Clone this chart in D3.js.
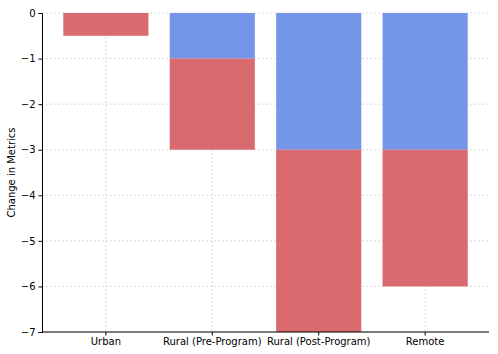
<!DOCTYPE html>
<html>
<head>
<meta charset="utf-8">
<script src="https://cdn.jsdelivr.net/npm/d3@7"></script>
<style>
  body { margin: 0; background: #fff; }
  text { font-family: "DejaVu Sans", sans-serif; }
</style>
</head>
<body>
<svg width="498" height="354"></svg>
<script>
// data
const categories = ["Urban", "Rural (Pre-Program)", "Rural (Post-Program)", "Remote"];
const firstPart = [0, -1, -3, -3];      // blue, drawn from 0
const secondPart = [-0.5, -2, -4, -3];  // red, stacked under blue
const yTicks = [0, -1, -2, -3, -4, -5, -6, -7];

const svg = d3.select("svg");
const m = {left: 42, right: 9, top: 13, bottom: 22};
const W = 498, H = 354;

const x = d3.scaleBand()
  .domain(categories)
  .range([m.left, W - m.right])
  .paddingInner(0.2)
  .paddingOuter(0.2);

const y = d3.scaleLinear()
  .domain([-7, 0])
  .range([H - m.bottom, m.top]);

// grid
const grid = svg.append("g");
grid.selectAll(".gy").data(yTicks).join("line")
  .attr("x1", m.left).attr("x2", W - m.right)
  .attr("y1", d => y(d)).attr("y2", d => y(d))
  .attr("stroke", "#d0d0d0").attr("stroke-width", 0.8)
  .attr("stroke-dasharray", "2,2");
grid.selectAll(".gx").data(categories).join("line")
  .attr("x1", d => x(d) + x.bandwidth() / 2).attr("x2", d => x(d) + x.bandwidth() / 2)
  .attr("y1", m.top).attr("y2", H - m.bottom)
  .attr("stroke", "#d0d0d0").attr("stroke-width", 0.8)
  .attr("stroke-dasharray", "2,2");

// blue bars
svg.append("g").selectAll("rect").data(categories).join("rect")
  .attr("x", d => x(d))
  .attr("width", x.bandwidth())
  .attr("y", (d, i) => y(0))
  .attr("height", (d, i) => y(firstPart[i]) - y(0))
  .attr("fill", "#7596e8");

// red bars stacked below
svg.append("g").selectAll("rect").data(categories).join("rect")
  .attr("x", d => x(d))
  .attr("width", x.bandwidth())
  .attr("y", (d, i) => y(firstPart[i]))
  .attr("height", (d, i) => y(firstPart[i] + secondPart[i]) - y(firstPart[i]))
  .attr("fill", "#d96a70");

// axes
const yAxis = svg.append("g")
  .attr("transform", `translate(${m.left},0)`)
  .call(d3.axisLeft(y).tickValues(yTicks).tickSize(3.5).tickPadding(3)
    .tickFormat(d => d < 0 ? "\u2212" + Math.abs(d) : d));
yAxis.select(".domain").attr("stroke", "#000").attr("stroke-width", 1);
yAxis.selectAll("text").attr("font-size", 10).attr("fill", "#000")
  .attr("font-family", "DejaVu Sans, sans-serif");

const xAxis = svg.append("g")
  .attr("transform", `translate(0,${H - m.bottom})`)
  .call(d3.axisBottom(x).tickSize(3.5).tickPadding(2).tickSizeOuter(0));
xAxis.select(".domain").attr("stroke", "#000").attr("stroke-width", 1)
  .attr("d", `M${m.left},0H${W - m.right}`);
xAxis.selectAll("text").attr("font-size", 10).attr("fill", "#000")
  .attr("font-family", "DejaVu Sans, sans-serif");

svg.append("text")
  .attr("transform", `translate(15,${(m.top + H - m.bottom) / 2}) rotate(-90)`)
  .attr("text-anchor", "middle")
  .attr("font-size", 10)
  .text("Change in Metrics");
</script>
</body>
</html>
